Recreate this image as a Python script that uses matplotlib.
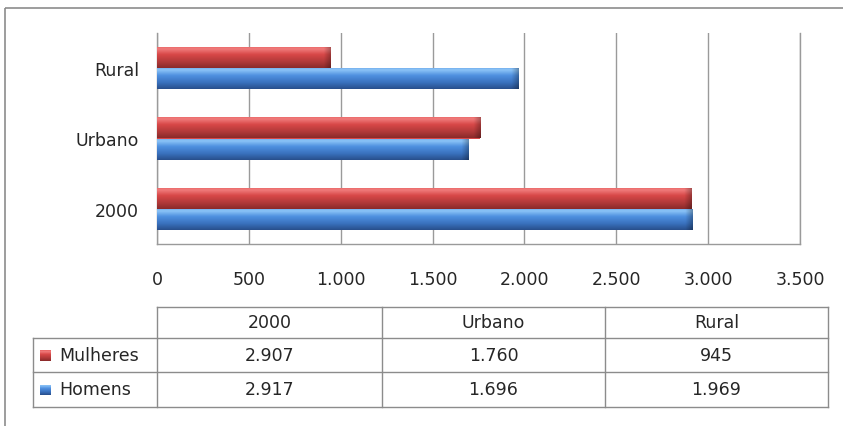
import numpy as np
import matplotlib

matplotlib.use("Agg")
import matplotlib.pyplot as plt
from matplotlib.colors import LinearSegmentedColormap
from matplotlib.patches import Rectangle

# ---------------------------------------------------------------------------
# Data
# ---------------------------------------------------------------------------
categories = ["2000", "Urbano", "Rural"]
series_names = ["Mulheres", "Homens"]
mulheres = [2907, 1760, 945]
homens = [2917, 1696, 1969]
x_ticks = [0, 500, 1000, 1500, 2000, 2500, 3000, 3500]

W, H = 843, 427
FONT = "DejaVu Sans"
FS = 12.5
TXT = "#262626"
GRID = "#9a9a9a"

red_stops = ["#8a2a2a", "#b33a3a", "#d84848", "#f07c7c", "#e86262"]
blue_stops = ["#284f8c", "#3a72bf", "#4f90e0", "#8cc4f7", "#6aa6ea"]
red_cmap = LinearSegmentedColormap.from_list("red3d", list(zip([0, .3, .62, .88, 1], red_stops)))
blue_cmap = LinearSegmentedColormap.from_list("blue3d", list(zip([0, .3, .62, .88, 1], blue_stops)))


def fmt(v):
    return f"{v:,.0f}".replace(",", ".")


def px(x0, y0, x1, y1):
    """pixel box (top-left origin) -> figure fraction rect"""
    return [x0 / W, 1 - y1 / H, (x1 - x0) / W, (y1 - y0) / H]


def shade(ax, patch, cmap, px_per_unit):
    # vertical 3d-ish gradient, darker bevel at the bar end
    x0, y0 = patch.get_x(), patch.get_y()
    w, h = patch.get_width(), patch.get_height()
    rows = cmap(np.linspace(0, 1, 64))[:, None, :3]
    wpx = max(w * px_per_unit, 1)
    xs = np.linspace(0, wpx, 400)
    f = 1 - 0.28 * np.clip((xs - (wpx - 7)) / 7, 0, 1)
    rgb = rows * f[None, :, None]
    im = ax.imshow(rgb, extent=[x0, x0 + w, y0, y0 + h], origin="lower",
                   aspect="auto", interpolation="bilinear",
                   zorder=patch.get_zorder())
    im.set_clip_path(patch)


fig = plt.figure(figsize=(W / 100, H / 100), dpi=100)

# overlay in pixel coordinates: outer frame + data table
ov = fig.add_axes([0, 0, 1, 1])
ov.set_xlim(0, W)
ov.set_ylim(H, 0)
ov.axis("off")
ov.add_patch(Rectangle((5, 9), W + 10, H + 10, fill=False, ec="#8c8c8c", lw=1.2))

# ---------------------------------------------------------------------------
# Bar chart
# ---------------------------------------------------------------------------
ax = fig.add_axes(px(157, 34, 800, 245))
y = np.arange(len(categories))
bh = 0.3
ppu = (800 - 157) / 3500
bars_m = ax.barh(y + bh / 2, mulheres, height=bh, color="#d84848", lw=0, zorder=3)
bars_h = ax.barh(y - bh / 2, homens, height=bh, color="#4f90e0", lw=0, zorder=3)
for p in bars_m:
    shade(ax, p, red_cmap, ppu)
for p in bars_h:
    shade(ax, p, blue_cmap, ppu)

ax.set_xlim(0, 3500)
ax.set_ylim(-0.5, len(categories) - 0.5)
ax.set_xticks(x_ticks)
ax.set_xticklabels([fmt(v) for v in x_ticks], fontsize=FS, family=FONT, color=TXT)
ax.set_yticks(y)
ax.set_yticklabels(categories, fontsize=FS, family=FONT, color=TXT)
ax.tick_params(axis="y", length=0, pad=13)
ax.tick_params(axis="x", length=0, pad=19)
ax.grid(axis="x", color=GRID, lw=1)
ax.set_axisbelow(True)
ax.spines["top"].set_visible(False)
for s in ["left", "bottom", "right"]:
    ax.spines[s].set_color(GRID)
    ax.spines[s].set_linewidth(1)

# ---------------------------------------------------------------------------
# Data table
# ---------------------------------------------------------------------------
col_x = [33, 157, 382, 605, 828]
row_y = [308, 339, 373, 408]
tc = "#8c8c8c"
ov.plot([col_x[1], col_x[-1]], [row_y[0], row_y[0]], color=tc, lw=1)
for ry in row_y[1:]:
    ov.plot([col_x[0], col_x[-1]], [ry, ry], color=tc, lw=1)
ov.plot([col_x[0], col_x[0]], [row_y[1], row_y[3]], color=tc, lw=1)
for cx in col_x[1:]:
    ov.plot([cx, cx], [row_y[0], row_y[3]], color=tc, lw=1)

for i, cat in enumerate(categories):
    cx = (col_x[i + 1] + col_x[i + 2]) / 2
    ov.text(cx, (row_y[0] + row_y[1]) / 2, cat, ha="center", va="center",
            fontsize=FS, family=FONT, color=TXT)
    for r, vals in enumerate([mulheres, homens]):
        ov.text(cx, (row_y[r + 1] + row_y[r + 2]) / 2, fmt(vals[i]),
                ha="center", va="center", fontsize=FS, family=FONT, color=TXT)

for r, (name, cmap) in enumerate(zip(series_names, [red_cmap, blue_cmap])):
    yc = (row_y[r + 1] + row_y[r + 2]) / 2
    key = Rectangle((40, yc - 5), 11, 11, fc="none", lw=0)
    ov.add_patch(key)
    im = ov.imshow(np.linspace(0, 1, 32).reshape(-1, 1), extent=[40, 51, yc + 6, yc - 5],
                   origin="lower", cmap=cmap, aspect="auto", zorder=2)
    im.set_clip_path(key)
    ov.text(59, yc, name, ha="left", va="center", fontsize=FS, family=FONT, color=TXT)
ov.set_xlim(0, W)
ov.set_ylim(H, 0)

fig.savefig("out.png", dpi=100)
